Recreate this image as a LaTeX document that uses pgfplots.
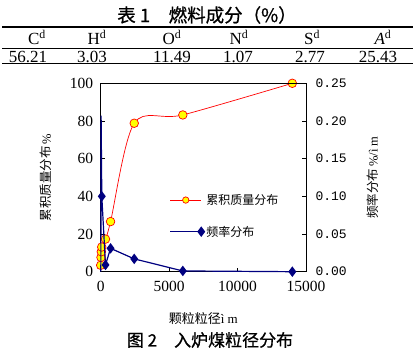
\documentclass[border=0pt]{standalone}
\usepackage{pgfplots}
\pgfplotsset{compat=1.18}
\usepackage{fontspec}
\setmainfont{Liberation Serif}
\newfontfamily\cjk{Noto Sans CJK SC}
\newfontfamily\cjkm[FakeBold=0.7]{Noto Sans CJK SC}
\newfontfamily\monofont{Liberation Mono}
\definecolor{navyb}{RGB}{0,0,128}
\definecolor{redl}{RGB}{255,0,0}
\definecolor{yel}{RGB}{255,255,0}
\begin{document}
\begin{tikzpicture}[x=1pt,y=1pt]
\path (0,0) rectangle (415,351);
% Table
\node[font=\cjkm\fontsize{18.5}{18.5}\selectfont] at (207,336) {表 1\hspace{1em}燃料成分（\%）};
\draw[line width=1.8pt] (2,324) -- (413,324);
\draw[line width=0.8pt] (2,302.7) -- (413,302.7);
\draw[line width=1.8pt] (2,287.5) -- (413,287.5);
\foreach \xx/\tt in {37/C,97/H,172/O,239/N,312/S} {
  \node[font=\fontsize{17}{17}\selectfont] at (\xx,313.5) {\tt$^{\mathrm{d}}$};
}
\node[font=\fontsize{17}{17}\selectfont] at (383,313.5) {\textit{A}$^{\mathrm{d}}$};
\foreach \xx/\tt in {28/56.21,92/3.03,172/11.49,238/1.07,310/2.77,378/25.43} {
  \node[font=\fontsize{17}{17}\selectfont] at (\xx,294) {\tt};
}
% Chart
\begin{axis}[
  at={(100.7pt,79.3pt)}, anchor=south west,
  scale only axis, width=205.3pt, height=188.4pt,
  xmin=0, xmax=15000, ymin=0, ymax=100,
  xtick={0,5000,10000,15000}, ytick={0,20,40,60,80,100},
  scaled x ticks=false,
  xticklabel style={/pgf/number format/1000 sep={}},
  tick align=inside, major tick length=4pt,
  axis y line*=left, axis x line*=bottom,
  axis line style={line width=0.8pt},
  tick style={line width=0.6pt, black},
  tick label style={font=\fontsize{15.5}{15.5}\selectfont},
  /pgf/number format/assume math mode=true,
  yticklabel style={xshift=-4pt},
  xticklabel style={yshift=-6pt},
  xlabel={{\cjk 颗粒粒径}ì m},
  xlabel style={at={(axis description cs:0.5,-0.25)}, anchor=center, font=\fontsize{13}{13}\selectfont},
  ylabel={{\cjk 累积质量分布}\,\%},
  ylabel style={at={(axis description cs:-0.266,0.5)}, anchor=center, font=\fontsize{12.5}{12.5}\selectfont},
  clip=false,
]
\addplot[redl, line width=0.7pt, smooth, tension=0.5, mark=*, mark size=4.3pt,
  mark options={fill=yel, draw=redl, line width=0.7pt}] coordinates {
  (0,3.4) (20,7.6) (45,10.6) (75,13.1) (350,17.3) (720,26.6) (2450,78.8) (6000,83.2) (14000,100)
};
\end{axis}
\begin{axis}[
  at={(100.7pt,79.3pt)}, anchor=south west,
  scale only axis, width=205.3pt, height=188.4pt,
  xmin=0, xmax=15000, ymin=0, ymax=0.25,
  ytick={0,0.05,0.1,0.15,0.2,0.25},
  axis y line*=right, axis x line*=top, xtick=\empty,
  tick align=inside, major tick length=4pt,
  axis line style={line width=0.8pt},
  tick style={line width=0.6pt, black},
  yticklabel style={font=\monofont\fontsize{13}{13}\selectfont, xshift=6pt},
  y tick label style={/pgf/number format/fixed, /pgf/number format/fixed zerofill, /pgf/number format/precision=2, /pgf/number format/assume math mode=true},
  ylabel={{\cjk 频率分布}\,\%/ì m},
  ylabel style={at={(axis description cs:1.326,0.5)}, anchor=center, font=\fontsize{12.5}{12.5}\selectfont},
  legend image code/.code={\draw[mark repeat=2,mark phase=2] plot coordinates {(0pt,0pt) (15.5pt,0pt) (31pt,0pt)};},
  legend style={draw=none, fill=none, at={(axis cs:4950,0.107)}, anchor=north west,
    font=\cjk\fontsize{12}{12}\selectfont, row sep=16pt, inner sep=1pt},
  legend cell align=left,
  clip=false,
]
\addlegendimage{redl, line width=0.7pt, mark=*, mark size=3.2pt, mark options={fill=yel, draw=redl}}
\addlegendentry{累积质量分布}
\addplot[navyb, line width=1.2pt, mark=diamond*, mark size=4.3pt, mark options={fill=navyb},
  mark indices={3,4,5,6,7,8}] coordinates {
  (10,0.0) (30,0.207) (80,0.100) (350,0.009) (720,0.031) (2450,0.017) (6000,0.001) (14000,0.0)
};
\addlegendentry{频率分布}
\end{axis}
\node[font=\cjkm\fontsize{17}{17}\selectfont] at (210,11) {图 2\hspace{1em}入炉煤粒径分布};
\end{tikzpicture}
\end{document}
